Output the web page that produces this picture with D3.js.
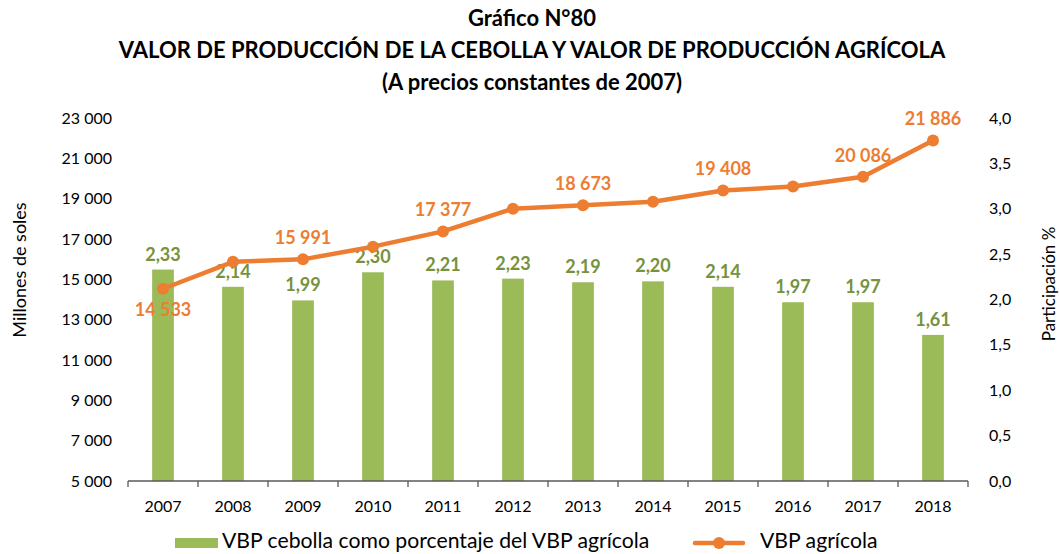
<!DOCTYPE html>
<html>
<head>
<meta charset="utf-8">
<script src="https://cdn.jsdelivr.net/npm/d3@7"></script>
<style>
  html, body { margin: 0; padding: 0; background: #fff; }
  svg { display: block; font-family: Lato, "Open Sans", sans-serif; }
</style>
</head>
<body>
<svg id="chart" width="1060" height="554"></svg>
<script>
// Años del periodo
const years = ["2007","2008","2009","2010","2011","2012","2013","2014","2015","2016","2017","2018"];
// VBP cebolla como porcentaje del VBP agrícola (%)
const sharePct = [2.33, 2.14, 1.99, 2.30, 2.21, 2.23, 2.19, 2.20, 2.14, 1.97, 1.97, 1.61];
// VBP agrícola (millones de soles, a precios de 2007)
const vbpAgricola = [14533, 15870, 15991, 16620, 17377, 18500, 18673, 18850, 19408, 19600, 20086, 21886];
// Años cuyo valor de VBP agrícola se rotula
const labeledYears = ["2007","2009","2011","2013","2015","2017","2018"];
// Marcas de los ejes
const leftTicks = [5000, 7000, 9000, 11000, 13000, 15000, 17000, 19000, 21000, 23000];
const rightTicks = [0, 0.5, 1, 1.5, 2, 2.5, 3, 3.5, 4];
const titleLines = ["Gráfico N°80",
  "VALOR DE PRODUCCIÓN DE LA CEBOLLA Y VALOR DE PRODUCCIÓN AGRÍCOLA",
  "(A precios constantes de 2007)"];

const GREEN = "#9BBB59", GREEN_TXT = "#76923C", ORANGE = "#ED7D31", TXT = "#000";

const svg = d3.select("#chart");
const plotL = 128, plotR = 968, plotT = 118, plotB = 481;

const x = d3.scaleBand().domain(years).range([plotL, plotR]).paddingInner(0.69).paddingOuter(0.345);
const xc = d3.scaleBand().domain(years).range([plotL, plotR]);
const yL = d3.scaleLinear().domain([5000, 23000]).range([plotB, plotT]);
const yR = d3.scaleLinear().domain([0, 4]).range([plotB, plotT]);

const fmtThousands = v => d3.format(",")(v).replace(/,/g, " ");
const fmtComma = d => d3.format(".1f")(d).replace(".", ",");
const fmtPct = d => d3.format(".2f")(d).replace(".", ",");

// Título
svg.append("g").selectAll("text").data(titleLines).join("text")
  .attr("x", 532).attr("y", (d, i) => 26 + i * 32)
  .attr("text-anchor", "middle").attr("font-weight", 700).attr("font-size", 22)
  .attr("fill", TXT).text(d => d);

// Barras (eje derecho)
svg.append("g").selectAll("rect").data(years).join("rect")
  .attr("x", d => x(d)).attr("width", x.bandwidth())
  .attr("y", (d, i) => yR(sharePct[i]))
  .attr("height", (d, i) => plotB - yR(sharePct[i]))
  .attr("fill", GREEN);

// Eje X
const gx = svg.append("g").attr("transform", `translate(0,${plotB})`);
gx.append("line").attr("x1", plotL).attr("x2", plotR).attr("stroke", "#595959").attr("stroke-width", 1.3);
const bounds = years.map(d => xc(d)).concat([plotR]);
gx.selectAll("line.tk").data(bounds).join("line").attr("class", "tk")
  .attr("x1", d => d).attr("x2", d => d).attr("y1", 0).attr("y2", 6)
  .attr("stroke", "#595959").attr("stroke-width", 1.3);
gx.selectAll("text").data(years).join("text")
  .attr("x", d => xc(d) + xc.bandwidth() / 2).attr("y", 31)
  .attr("text-anchor", "middle").attr("font-size", 16).attr("fill", TXT).text(d => d);

// Eje izquierdo
svg.append("g").selectAll("text").data(leftTicks).join("text")
  .attr("x", 112).attr("y", d => yL(d)).attr("dy", "0.35em")
  .attr("text-anchor", "end").attr("font-size", 16).attr("fill", TXT).text(fmtThousands);

// Eje derecho
svg.append("g").selectAll("text").data(rightTicks).join("text")
  .attr("x", 989).attr("y", d => yR(d)).attr("dy", "0.35em")
  .attr("text-anchor", "start").attr("font-size", 16).attr("fill", TXT).text(fmtComma);

// Títulos de ejes
svg.append("text").attr("transform", "translate(20,270) rotate(-90)").attr("dy", "0.35em")
  .attr("text-anchor", "middle").attr("font-size", 18).attr("fill", TXT).text("Millones de soles");
svg.append("text").attr("transform", "translate(1049,284) rotate(-90)").attr("dy", "0.35em")
  .attr("text-anchor", "middle").attr("font-size", 17).attr("fill", TXT).text("Participación  %");

// Etiquetas de barras
svg.append("g").selectAll("text").data(years).join("text")
  .attr("x", d => xc(d) + xc.bandwidth() / 2)
  .attr("y", (d, i) => yR(sharePct[i]) - 9)
  .attr("text-anchor", "middle").attr("font-size", 18).attr("font-weight", 700)
  .attr("fill", GREEN_TXT).text((d, i) => fmtPct(sharePct[i]));

// Línea VBP agrícola (eje izquierdo)
const pts = years.map((d, i) => [xc(d) + xc.bandwidth() / 2, yL(vbpAgricola[i])]);
svg.append("path").datum(pts).attr("d", d3.line())
  .attr("fill", "none").attr("stroke", ORANGE).attr("stroke-width", 4.5).attr("stroke-linejoin", "round");
svg.append("g").selectAll("circle").data(pts).join("circle")
  .attr("cx", d => d[0]).attr("cy", d => d[1]).attr("r", 6).attr("fill", ORANGE);

// Etiquetas de la línea
svg.append("g").selectAll("text").data(years.filter(y => labeledYears.includes(y))).join("text")
  .attr("x", d => xc(d) + xc.bandwidth() / 2)
  .attr("y", d => {
    const v = vbpAgricola[years.indexOf(d)];
    return d === "2007" ? yL(v) + 27 : yL(v) - 15;
  })
  .attr("text-anchor", "middle").attr("font-size", 18).attr("font-weight", 700)
  .attr("fill", ORANGE).text(d => fmtThousands(vbpAgricola[years.indexOf(d)]));

// Leyenda
const lg = svg.append("g");
lg.append("rect").attr("x", 175).attr("y", 538).attr("width", 43).attr("height", 10).attr("fill", GREEN);
lg.append("text").attr("x", 222).attr("y", 548).attr("font-size", 21.2)
  .attr("fill", TXT).text("VBP cebolla como porcentaje del VBP agrícola");
lg.append("line").attr("x1", 695).attr("x2", 743).attr("y1", 543).attr("y2", 543)
  .attr("stroke", ORANGE).attr("stroke-width", 4.5).attr("stroke-linecap", "round");
lg.append("circle").attr("cx", 719).attr("cy", 543).attr("r", 6).attr("fill", ORANGE);
lg.append("text").attr("x", 760).attr("y", 548).attr("font-size", 21.2)
  .attr("fill", TXT).text("VBP agrícola");
</script>
</body>
</html>
